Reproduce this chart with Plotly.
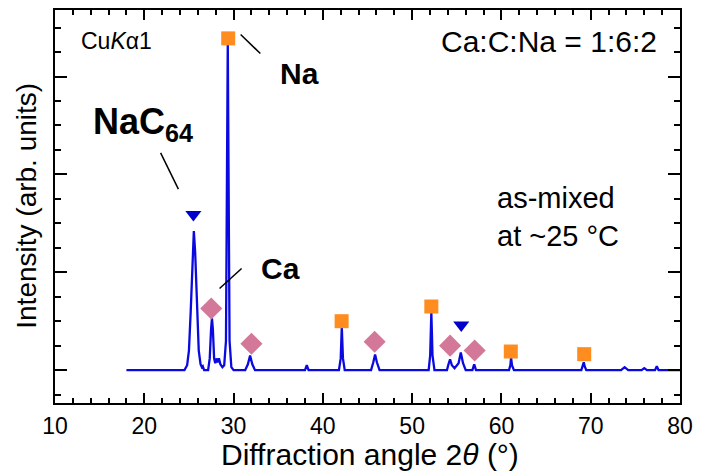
import plotly.graph_objects as go

# ---- data ----
two_theta = [18.0, 24.5, 24.8, 25.0, 25.2, 25.4, 25.55, 25.7, 25.9, 26.1, 26.3, 26.45, 26.55, 26.7,
             27.15, 27.33, 27.48, 27.58, 27.68, 27.82, 27.95, 28.07, 28.2, 28.36, 28.52, 28.75, 28.95,
             29.15, 29.35, 29.55, 29.75, 30.0,
             31.3, 31.6, 31.85, 32.1, 32.4,
             38.0, 38.2, 38.4,
             41.8, 42.0, 42.12, 42.25, 42.45,
             45.4, 45.65, 45.85, 46.05, 46.35,
             51.85, 52.02, 52.15, 52.28, 52.5,
             53.9, 54.1, 54.25, 54.45, 54.75, 55.2, 55.45, 55.7, 56.0,
             56.75, 56.95, 57.15,
             60.85, 61.0, 61.08, 61.18, 61.4,
             68.95, 69.12, 69.22, 69.32, 69.5,
             73.4, 73.8, 74.2,
             75.7, 76.0, 76.3,
             77.2, 77.4, 77.6,
             80.0]
intensity = [0.0, 0.0, 0.05, 0.2, 0.6, 1.2, 1.42, 1.2, 0.6, 0.2, 0.06, 0.03, 0.04, 0.0,
             0.0, 0.12, 0.42, 0.53, 0.42, 0.12, 0.07, 0.12, 0.08, 0.12, 0.06, 0.03, 0.05,
             0.30, 3.36, 0.30, 0.03, 0.0,
             0.0, 0.06, 0.15, 0.06, 0.0,
             0.0, 0.05, 0.0,
             0.0, 0.12, 0.44, 0.12, 0.0,
             0.0, 0.08, 0.16, 0.08, 0.0,
             0.0, 0.15, 0.59, 0.15, 0.0,
             0.0, 0.07, 0.11, 0.05, 0.02, 0.07, 0.18, 0.07, 0.0,
             0.0, 0.06, 0.0,
             0.0, 0.05, 0.13, 0.05, 0.0,
             0.0, 0.04, 0.08, 0.04, 0.0,
             0.0, 0.03, 0.0,
             0.0, 0.02, 0.0,
             0.0, 0.04, 0.0,
             0.0]

na_x = [29.4, 42.1, 52.15, 61.05, 69.27]
na_y = [3.39, 0.50, 0.65, 0.19, 0.163]
ca_x = [27.5, 32.0, 45.8, 54.25, 57.0]
ca_y = [0.63, 0.27, 0.29, 0.25, 0.20]
nac_x = [25.5, 55.5]
nac_y = [1.59, 0.46]

# leader lines (data coordinates)
lead_nac_x = [21.83, 23.82]
lead_nac_y = [2.22, 1.85]
lead_na_x = [30.79, 33.0]
lead_na_y = [3.43, 3.235]
lead_ca_x = [28.43, 30.9]
lead_ca_y = [0.834, 1.038]

x_ticks = [10, 20, 30, 40, 50, 60, 70, 80]

FONT = "Liberation Sans, Arial, Helvetica, sans-serif"

fig = go.Figure()
fig.add_trace(go.Scatter(x=two_theta, y=intensity, mode="lines",
                         line=dict(color="#0a0ae0", width=2.3), hoverinfo="skip"))
fig.add_trace(go.Scatter(x=ca_x, y=ca_y, mode="markers",
                         marker=dict(symbol="diamond", size=17, color="#d4789a")))
fig.add_trace(go.Scatter(x=na_x, y=na_y, mode="markers",
                         marker=dict(symbol="square", size=14, color="#ff8c1e")))
fig.add_trace(go.Scatter(x=nac_x, y=nac_y, mode="markers",
                         marker=dict(symbol="triangle-down", size=14, color="#0000cc")))
for lx, ly in [(lead_nac_x, lead_nac_y), (lead_na_x, lead_na_y), (lead_ca_x, lead_ca_y)]:
    fig.add_trace(go.Scatter(x=lx, y=ly, mode="lines", line=dict(color="black", width=1.5)))

ann = [
    dict(x=16.9, y=3.36, text="Cu<i>K</i>α1", font=dict(size=23)),
    dict(x=77.7, y=3.36, text="Ca:C:Na = 1:6:2", xanchor="right", font=dict(size=30)),
    dict(x=37.37, y=3.03, text="<b>Na</b>", font=dict(size=30)),
    dict(x=19.84, y=2.52, text="<b>NaC<sub>64</sub></b>", font=dict(size=36)),
    dict(x=35.2, y=1.04, text="<b>Ca</b>", font=dict(size=30)),
    dict(x=(501 - 55) / 9.043 + 10, y=(370 - 216) / 98.3, text="as-mixed<br>at ~25 °C",
         xanchor="left", align="left", font=dict(size=29)),
]
for a in ann:
    a.setdefault("xanchor", "center")
    a.update(xref="x", yref="y", yanchor="middle", showarrow=False)
    a["font"].update(family=FONT, color="black")
    fig.add_annotation(**a)

fig.add_annotation(xref="paper", yref="paper", x=0.504, y=-0.132, yanchor="middle", xanchor="center",
                   text="Diffraction angle 2<i>θ</i> (°)", showarrow=False,
                   font=dict(family=FONT, size=30, color="black"))
fig.add_annotation(xref="paper", yref="paper", x=-0.047, y=0.501, yanchor="middle", xanchor="center",
                   text="Intensity (arb. units)", textangle=-90, showarrow=False,
                   font=dict(family=FONT, size=28, color="black"))

fig.update_layout(
    width=701, height=475, showlegend=False,
    margin=dict(l=55, r=13, t=8, b=72),
    plot_bgcolor="white", paper_bgcolor="white",
    font=dict(family=FONT, color="black"),
)
fig.update_xaxes(range=[10, 80], tickvals=x_ticks, ticks="inside", ticklen=10, tickwidth=2,
                 tickcolor="black", showline=True, linecolor="black", linewidth=2, mirror="allticks",
                 showgrid=False, zeroline=False, tickfont=dict(size=23, family=FONT),
                 ticklabelstandoff=1,
                 minor=dict(dtick=2, tick0=10, ticks="inside", ticklen=5, tickwidth=1.5, tickcolor="black",
                            showgrid=False))
fig.update_yaxes(range=[-0.336, 3.68], tickvals=[0, 1, 2, 3], ticks="inside", ticklen=12, tickwidth=2,
                 tickcolor="black", showline=True, linecolor="black", linewidth=2, mirror="allticks",
                 showgrid=False, zeroline=False, showticklabels=False,
                 minor=dict(dtick=0.25, tick0=0, ticks="inside", ticklen=6, tickwidth=1.5, tickcolor="black",
                            showgrid=False))

fig.write_html("out.html", config={"displayModeBar": False},
               post_script="document.body.style.margin='0';document.body.style.overflow='hidden';")
